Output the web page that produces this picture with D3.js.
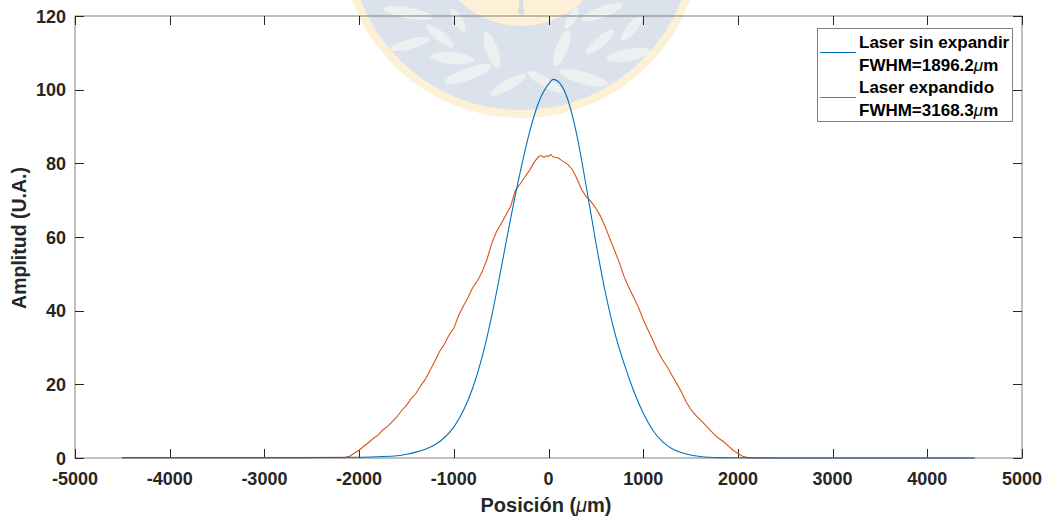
<!DOCTYPE html>
<html><head><meta charset="utf-8">
<script src="https://cdn.jsdelivr.net/npm/d3@7"></script>
<style>html,body{margin:0;padding:0;background:#fff;overflow:hidden}svg{display:block;font-family:"Liberation Sans",Arial,Helvetica,sans-serif}</style>
</head><body><svg id="c" width="1047" height="518"></svg>
<script>
const xTicks = [-5000,-4000,-3000,-2000,-1000,0,1000,2000,3000,4000,5000];
const yTicks = [0,20,40,60,80,100,120];
const seriesNames = ["Laser sin expandir", "Laser expandido"];
const fwhmLabels = ["FWHM=1896.2", "FWHM=3168.3"];
const seriesColors = ["#0072BD", "#D95319"];

const blueX = [-4500,-3000,-2000,-1800,-1600,-1500,-1400,-1300,-1200,-1100,-1000,-900,-800,-700,-600,-500,-400,-300,-200,-100,0,50,100,200,300,400,500,600,700,800,900,1000,1100,1200,1300,1400,1500,1600,1800,2000,3000,4500];
const blueY = [0.1,0.1,0.2,0.35,0.6,1.0,1.6,2.4,3.6,5.5,8.4,12.8,19.0,27.5,38.5,51.5,65.0,77.5,88.5,96.8,101.5,102.8,102.3,97.6,87.6,73.5,58.5,45.0,34.0,25.5,18.2,12.2,7.6,4.5,2.6,1.5,0.8,0.4,0.1,0.05,0,0];

const orangeX = [-4500,-2200,-2150,-2100,-2050,-2000,-1950,-1900,-1850,-1800,-1750,-1700,-1650,-1600,-1550,-1500,-1450,-1400,-1350,-1300,-1250,-1200,-1150,-1100,-1050,-1000,-950,-900,-850,-800,-750,-700,-650,-600,-550,-500,-450,-400,-350,-300,-250,-200,-150,-100,-75,-50,-25,0,25,50,100,150,200,250,300,350,400,450,500,550,600,650,700,750,800,850,900,950,1000,1050,1100,1150,1200,1250,1300,1350,1400,1450,1500,1550,1600,1650,1700,1750,1800,1850,1900,1950,2000,2050,2100,2150,4500];
const orangeY = [0.1,0.1,0.1,0.5,1.3,2.1,3.2,4.2,5.3,6.2,7.6,8.6,9.9,11.2,12.9,14.3,16.1,17.5,19.6,21.4,23.8,26.3,28.9,30.9,33.4,35.2,38.6,41.2,43.6,46.3,48.1,50.6,53.9,58.2,61.4,63.6,66.0,68.3,72.6,74.4,76.3,78.1,80.4,81.9,82.1,81.6,82.0,81.9,82.4,81.7,81.5,80.6,79.8,78.4,75.9,72.9,70.9,69.6,67.8,65.6,62.7,59.4,56.2,52.9,49.1,46.2,43.6,40.9,37.6,34.8,32.1,29.2,26.8,24.9,22.6,20.4,18.1,15.4,13.3,11.7,10.4,9.1,7.8,6.4,5.3,4.4,3.2,2.1,1.2,0.5,0.1,0,0];

const svg = d3.select("#c");
const L = 75, R = 1022, T = 16, B = 458;
const x = d3.scaleLinear().domain([-5000,5000]).range([L,R]);
const y = d3.scaleLinear().domain([0,120]).range([B,T]);

// watermark (faint logo)
const wm = svg.append("g");
const cx = 521, cy = -62;
wm.append("circle").attr("cx",cx).attr("cy",cy).attr("r",180).attr("fill","#fcf0d6");
wm.append("circle").attr("cx",cx).attr("cy",cy).attr("r",172).attr("fill","#dbe2ec");
wm.append("circle").attr("cx",cx).attr("cy",cy).attr("r",88).attr("fill","#fdf0d6");
wm.append("rect").attr("x",cx-2).attr("y",-2).attr("width",4).attr("height",12).attr("fill","#d8dde3");
wm.append("circle").attr("cx",cx).attr("cy",11).attr("r",3.5).attr("fill","#d8dde3");
const leaves = [[408,13,50,11,10],[440,36,34,10,40],[410,44,40,10,-15],[452,58,44,12,5],[492,50,38,12,70],[468,74,50,12,-20],[508,85,40,10,-30],[458,20,26,9,60],
                [602,12,44,11,-20],[562,48,38,12,-70],[600,42,36,10,-40],[628,55,44,12,-10],[584,78,50,12,15],[545,82,40,10,30],[632,28,32,10,-50],[572,18,24,9,-60]];
leaves.forEach(d=>{
  wm.append("ellipse").attr("cx",d[0]).attr("cy",d[1]).attr("rx",d[2]/2).attr("ry",d[3]/2)
    .attr("transform",`rotate(${d[4]},${d[0]},${d[1]})`).attr("fill","#eeeff1");
});

// box
svg.append("rect").attr("x",L).attr("y",T).attr("width",R-L).attr("height",B-T)
  .attr("fill","none").attr("stroke","#7f7f7f").attr("stroke-width",1);

// ticks
const tk = svg.append("g").attr("stroke","#262626").attr("stroke-width",1);
xTicks.forEach(v=>{
  const px = Math.round(x(v))+0.5;
  tk.append("line").attr("x1",px).attr("x2",px).attr("y1",B).attr("y2",B-9);
  tk.append("line").attr("x1",px).attr("x2",px).attr("y1",T).attr("y2",T+9);
});
yTicks.forEach(v=>{
  const py = Math.round(y(v))+0.5;
  tk.append("line").attr("x1",L).attr("x2",L+9).attr("y1",py).attr("y2",py);
  tk.append("line").attr("x1",R).attr("x2",R-9).attr("y1",py).attr("y2",py);
});

// tick labels
const tl = svg.append("g").attr("font-size","18px").attr("font-weight","bold").attr("fill","#262626");
xTicks.forEach(v=>{
  tl.append("text").attr("x",x(v)).attr("y",485).attr("text-anchor","middle").text(v);
});
yTicks.forEach(v=>{
  tl.append("text").attr("x",66).attr("y",y(v)+6.5).attr("text-anchor","end").text(v);
});

// axis titles
const xt = svg.append("text").attr("x",546).attr("y",512).attr("text-anchor","middle")
  .attr("font-size","20px").attr("font-weight","bold").attr("fill","#262626");
xt.append("tspan").text("Posición (");
xt.append("tspan").attr("font-style","italic").attr("font-weight","normal").text("μ");
xt.append("tspan").text("m)");
svg.append("text").attr("transform","translate(26,238) rotate(-90)").attr("text-anchor","middle")
  .attr("font-size","19.5px").attr("font-weight","bold").attr("fill","#262626").text("Amplitud (U.A.)");

// curves
const line = d3.line().x(d=>x(d[0])).y(d=>y(d[1]));
const blue = blueX.map((v,i)=>[v,blueY[i]]);
const orange = orangeX.map((v,i)=>[v,orangeY[i]]);
svg.append("path").datum(orange).attr("d",line).attr("fill","none").attr("stroke",seriesColors[1]).attr("stroke-width",1.1);
svg.append("path").datum(blue).attr("d",line.curve(d3.curveMonotoneX)).attr("fill","none").attr("stroke",seriesColors[0]).attr("stroke-width",1.1);

// legend
const lg = svg.append("g");
lg.append("rect").attr("x",817.5).attr("y",28.5).attr("width",195).attr("height",93)
  .attr("fill","#fff").attr("stroke","#7f7f7f").attr("stroke-width",1);
const rowsY = [[47.7,71],[92.7,115.7]];
const lineY = [52.5,97.5];
seriesNames.forEach((n,i)=>{
  lg.append("line").attr("x1",820).attr("x2",856).attr("y1",lineY[i]).attr("y2",lineY[i])
    .attr("stroke",seriesColors[i]).attr("stroke-width",1.1);
  lg.append("text").attr("x",859).attr("y",rowsY[i][0]).attr("font-size","17px").attr("font-weight","bold").attr("fill","#000").text(n);
  const t = lg.append("text").attr("x",859).attr("y",rowsY[i][1]).attr("font-size","17px").attr("font-weight","bold").attr("fill","#000");
  t.append("tspan").text(fwhmLabels[i]);
  t.append("tspan").attr("font-style","italic").attr("font-weight","normal").text("μ");
  t.append("tspan").text("m");
});
</script></body></html>
